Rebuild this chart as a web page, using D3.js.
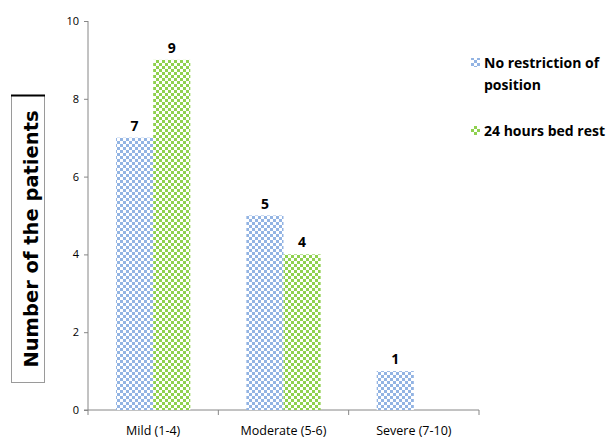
<!DOCTYPE html>
<html>
<head>
<meta charset="utf-8">
<script src="https://cdn.jsdelivr.net/npm/d3@7"></script>
<style>
body { margin: 0; background: #fff; }
</style>
</head>
<body>
<script>
// data
var categories = ["Mild (1-4)", "Moderate (5-6)", "Severe (7-10)"];
var seriesNames = ["No restriction of position", "24 hours bed rest"];
var noRestriction = [7, 5, 1];
var bedRest = [9, 4, null];
var yTicks = [0, 2, 4, 6, 8, 10];

var font = "'Open Sans', 'Liberation Sans', sans-serif";

var svg = d3.select("body").append("svg")
    .attr("width", 613)
    .attr("height", 441)
    .style("font-family", font);

// checker patterns
var defs = svg.append("defs");
function checker(id, color, cell) {
  var p = defs.append("pattern")
      .attr("id", id)
      .attr("patternUnits", "userSpaceOnUse")
      .attr("width", cell * 2)
      .attr("height", cell * 2);
  p.append("rect").attr("width", cell * 2).attr("height", cell * 2).attr("fill", "#fff");
  p.append("rect").attr("width", cell).attr("height", cell).attr("fill", color);
  p.append("rect").attr("x", cell).attr("y", cell).attr("width", cell).attr("height", cell).attr("fill", color);
}
checker("pBlue", "#93b4e3", 3);
checker("pGreen", "#8fd14f", 3);
var fills = ["url(#pBlue)", "url(#pGreen)"];

var x = d3.scaleBand().domain(categories).range([88, 479]);
var x1 = d3.scaleBand().domain([0, 1])
    .range([x.bandwidth() * 0.215, x.bandwidth() * 0.785]);
var y = d3.scaleLinear().domain([0, 10]).range([410, 21]);

// y axis
var yAxis = svg.append("g")
    .attr("transform", "translate(88,0)")
    .call(d3.axisLeft(y).tickValues(yTicks).tickSize(4).tickPadding(5));
yAxis.select(".domain").attr("stroke", "#868686").attr("d", "M0,21V410");
yAxis.selectAll(".tick line").attr("stroke", "#868686");
yAxis.selectAll(".tick text").attr("font-size", 11).attr("fill", "#000").style("font-family", font);

// x axis
var xAxis = svg.append("g")
    .attr("transform", "translate(0,410)")
    .call(d3.axisBottom(x).tickSize(0).tickPadding(16));
xAxis.select(".domain").attr("stroke", "#868686").attr("d", "M84,0H479");
xAxis.selectAll(".tick text").attr("font-size", 12.5).attr("fill", "#000").style("font-family", font);
svg.append("g").selectAll("line")
    .data(categories.concat(["end"]))
    .enter().append("line")
    .attr("x1", (d, i) => i < categories.length ? x(d) : x.range()[1])
    .attr("x2", (d, i) => i < categories.length ? x(d) : x.range()[1])
    .attr("y1", 410).attr("y2", 415)
    .attr("stroke", "#868686");

// bars
var rows = [];
categories.forEach(function (c, i) {
  [noRestriction[i], bedRest[i]].forEach(function (v, s) {
    if (v != null) rows.push({ cat: c, s: s, v: v });
  });
});

var bars = svg.append("g").selectAll("g")
    .data(rows)
    .enter().append("g");

bars.append("rect")
    .attr("x", d => x(d.cat) + x1(d.s))
    .attr("y", d => y(d.v))
    .attr("width", x1.bandwidth())
    .attr("height", d => y(0) - y(d.v))
    .attr("fill", d => fills[d.s]);

bars.append("text")
    .attr("x", d => x(d.cat) + x1(d.s) + x1.bandwidth() / 2)
    .attr("y", d => y(d.v) - 7)
    .attr("text-anchor", "middle")
    .attr("font-size", 14)
    .attr("font-weight", "bold")
    .text(d => d.v);

// legend
var legend = svg.append("g");
var legendRows = [
  { lines: ["No restriction of", "position"], y: 63 },
  { lines: ["24 hours bed rest"], y: 131 }
];
legendRows.forEach(function (r, i) {
  legend.append("rect")
      .attr("x", 471).attr("y", r.y - 5)
      .attr("width", 9).attr("height", 9)
      .attr("fill", fills[i]);
  legend.append("text")
      .attr("x", 484).attr("y", r.y + 5)
      .attr("font-size", 14)
      .attr("font-weight", "bold")
      .selectAll("tspan")
      .data(r.lines)
      .enter().append("tspan")
      .attr("x", 484)
      .attr("dy", (d, j) => j === 0 ? 0 : 22)
      .text(d => d);
});

// y title in a box
svg.append("rect")
    .attr("x", 11.5).attr("y", 95.5)
    .attr("width", 33).attr("height", 287)
    .attr("fill", "#fff")
    .attr("stroke", "#9a9a9a");
svg.append("line")
    .attr("x1", 11).attr("x2", 45)
    .attr("y1", 95.5).attr("y2", 95.5)
    .attr("stroke", "#000").attr("stroke-width", 2);
svg.append("text")
    .attr("transform", "translate(38,239) rotate(-90)")
    .attr("text-anchor", "middle")
    .style("font-family", "'DejaVu Sans', sans-serif")
    .attr("font-size", 19.5)
    .attr("font-weight", "bold")
    .text("Number of the patients");
</script>
</body>
</html>
